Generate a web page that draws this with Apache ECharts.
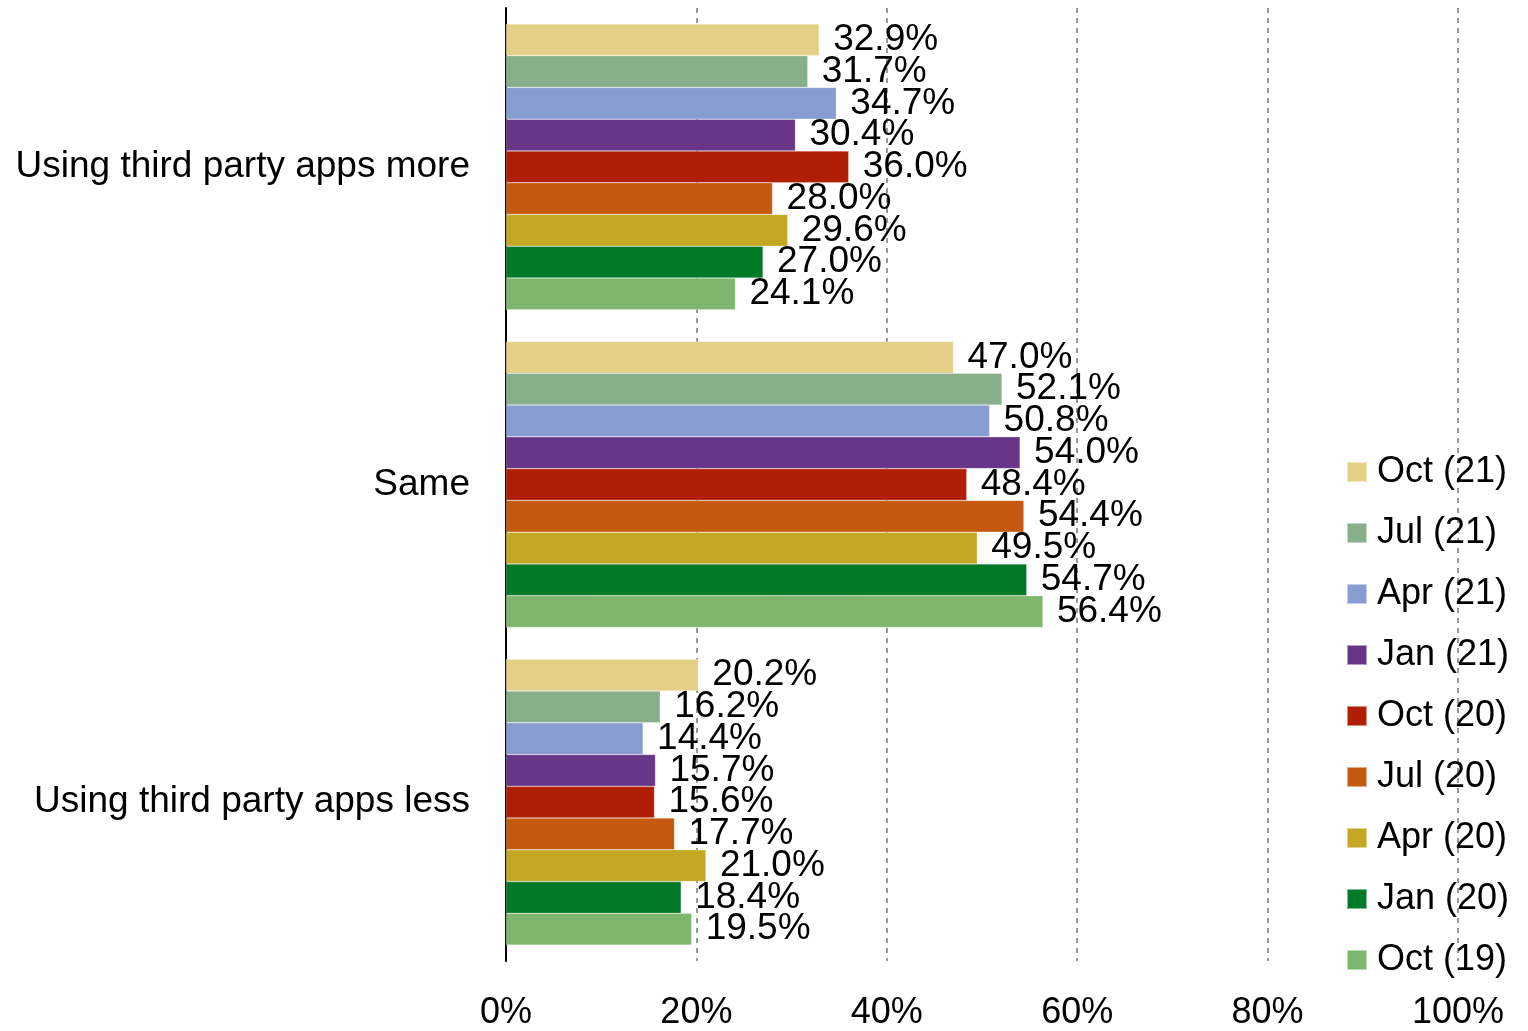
<!DOCTYPE html>
<html>
<head>
<meta charset="utf-8">
<script src="https://cdn.jsdelivr.net/npm/echarts@6/dist/echarts.min.js"></script>
<style>html,body{margin:0;padding:0;background:#fff}#c{width:1528px;height:1031px}</style>
</head>
<body>
<div id="c"></div>
<script>
const categories = ['Using third party apps more', 'Same', 'Using third party apps less'];
const seriesNames = ['Oct (21)', 'Jul (21)', 'Apr (21)', 'Jan (21)', 'Oct (20)', 'Jul (20)', 'Apr (20)', 'Jan (20)', 'Oct (19)'];
const oct21 = [32.9, 47.0, 20.2];
const jul21 = [31.7, 52.1, 16.2];
const apr21 = [34.7, 50.8, 14.4];
const jan21 = [30.4, 54.0, 15.7];
const oct20 = [36.0, 48.4, 15.6];
const jul20 = [28.0, 54.4, 17.7];
const apr20 = [29.6, 49.5, 21.0];
const jan20 = [27.0, 54.7, 18.4];
const oct19 = [24.1, 56.4, 19.5];
const xTicks = [0, 20, 40, 60, 80, 100];
const colors = ['#E4CF87', '#86AF8A', '#879DD2', '#683689', '#B01F05', '#C55A0F', '#C4A823', '#007A27', '#7DB76D'];

const values = [oct21, jul21, apr21, jan21, oct20, jul20, apr20, jan20, oct19];
const FONT = 'Liberation Sans, Arial, sans-serif';

const chart = echarts.init(document.getElementById('c'));
chart.setOption({
  animation: false,
  backgroundColor: '#fff',
  textStyle: { fontFamily: FONT, color: '#000' },
  grid: { left: 506, right: 70, top: 8, bottom: 70, containLabel: false },
  legend: {
    orient: 'vertical',
    left: 1341,
    top: 449,
    itemWidth: 20,
    itemHeight: 20,
    itemGap: 25,
    icon: 'rect',
    data: seriesNames,
    textStyle: { fontSize: 36, color: '#000', fontFamily: FONT, padding: [0, 0, 0, 5] }
  },
  xAxis: {
    type: 'value',
    min: 0, max: 100, interval: 20,
    axisLine: { show: false },
    axisTick: { show: false },
    splitLine: { show: true, lineStyle: { color: '#999', type: [5, 5], width: 2 } },
    axisLabel: {
      fontSize: 36, color: '#000', fontFamily: FONT, margin: 34,
      formatter: v => xTicks.includes(v) ? v + '%' : ''
    }
  },
  yAxis: {
    type: 'category',
    inverse: true,
    data: categories,
    axisLine: { show: true, lineStyle: { color: '#000', width: 2 } },
    axisTick: { show: false },
    axisLabel: { fontSize: 37, color: '#000', fontFamily: FONT, margin: 36 }
  },
  series: seriesNames.map((n, i) => ({
    name: n,
    type: 'bar',
    data: values[i],
    barGap: '0%',
    barCategoryGap: '10%',
    itemStyle: { color: colors[i], borderColor: 'rgba(255,255,255,0.5)', borderWidth: 0.5 },
    label: {
      show: true, position: 'right', distance: 14,
      fontSize: 37, color: '#000', fontFamily: FONT,
      formatter: p => p.value.toFixed(1) + '%'
    }
  }))
});
</script>
</body>
</html>
